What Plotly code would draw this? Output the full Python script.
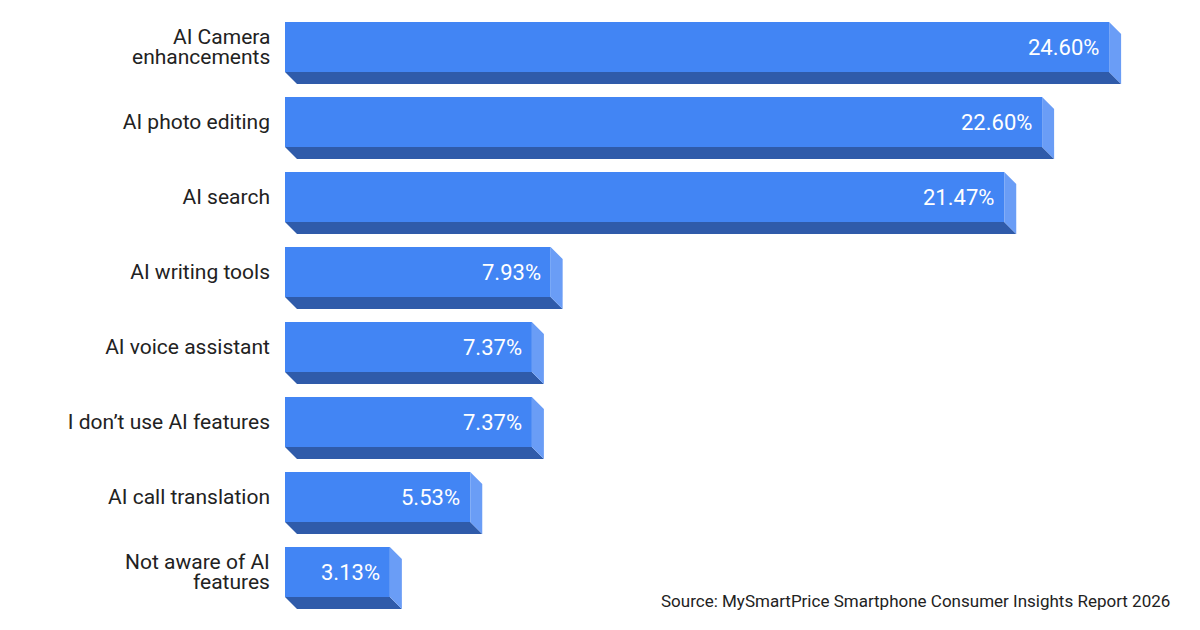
import plotly.graph_objects as go

# Survey: which AI smartphone features people use most
categories = [
    "AI Camera<br>enhancements",
    "AI photo editing",
    "AI search",
    "AI writing tools",
    "AI voice assistant",
    "I don’t use AI features",
    "AI call translation",
    "Not aware of AI<br>features",
]
shares = [24.60, 22.60, 21.47, 7.93, 7.37, 7.37, 5.53, 3.13]
value_labels = [f"{v:.2f}%" for v in shares]

source_note = "Source: MySmartPrice Smartphone Consumer Insights Report 2026"

FRONT = "#4285F4"
SIDE = "#6A9DF6"
BOTTOM = "#2F5BAA"
TEXT = "#222222"

# page body has an 8px margin, so everything is shifted up/left by 8
OFF = 8
LEFT = 285 - OFF
PLOT_W = 1200 - LEFT
PX_PER_PCT = 33.5
X_MAX = PLOT_W / PX_PER_PCT
ROW = 75
FIRST_CENTER = 47 - OFF
BAR_W = 50 / ROW
DX = 12 / PX_PER_PCT     # depth of the 3d effect, in x units
DY = 12 / ROW            # depth in row units
LINE_GAP = 20            # px between lines of two-line labels
positions = list(range(len(categories)))

fig = go.Figure()

# bottom + side faces as filled polygons
for pos, val in zip(positions, shares):
    y_top = pos - BAR_W / 2
    y_bot = pos + BAR_W / 2
    fig.add_trace(go.Scatter(
        x=[0, val, val + DX, DX, 0],
        y=[y_bot, y_bot, y_bot + DY, y_bot + DY, y_bot],
        fill="toself", fillcolor=BOTTOM, mode="lines",
        line=dict(width=0), hoverinfo="skip", showlegend=False,
    ))
    fig.add_trace(go.Scatter(
        x=[val, val + DX, val + DX, val, val],
        y=[y_top, y_top + DY, y_bot + DY, y_bot, y_top],
        fill="toself", fillcolor=SIDE, mode="lines",
        line=dict(width=0), hoverinfo="skip", showlegend=False,
    ))

# front faces
fig.add_trace(go.Bar(
    x=shares,
    y=positions,
    orientation="h",
    width=BAR_W,
    marker=dict(color=FRONT, line=dict(width=0)),
    hoverinfo="skip",
    showlegend=False,
))

for pos, val, lab in zip(positions, shares, value_labels):
    fig.add_annotation(
        x=val, y=pos, text=lab, showarrow=False,
        xanchor="right", xshift=-8,
        font=dict(family="Roboto", size=22, color="white"),
    )

# category labels: single-line ones go on the axis, two-line ones are
# drawn line by line so the line spacing can be tighter
tick_text = []
for pos, cat in zip(positions, categories):
    lines = cat.split("<br>")
    if len(lines) == 1:
        tick_text.append(cat)
        continue
    tick_text.append("")
    for k, line in enumerate(lines):
        fig.add_annotation(
            x=0, y=pos, xref="x domain", yref="y",
            text=line, showarrow=False,
            xanchor="right", yanchor="middle",
            xshift=-13,
            yshift=(len(lines) - 1) * LINE_GAP / 2 - k * LINE_GAP,
            font=dict(family="Roboto", size=21, color=TEXT),
        )

fig.add_annotation(
    x=(1172 - OFF - LEFT) / PLOT_W, y=1 - (601 - OFF) / 630,
    xref="x domain", yref="paper",
    text=source_note, showarrow=False,
    xanchor="right", yanchor="middle",
    font=dict(family="Roboto", size=17, color=TEXT),
)

fig.update_layout(
    width=1200, height=630,
    margin=dict(l=LEFT, r=0, t=0, b=0),
    paper_bgcolor="white",
    plot_bgcolor="white",
    font=dict(family="Roboto", color=TEXT),
)

fig.update_xaxes(
    range=[0, X_MAX], visible=False, fixedrange=True,
)
fig.update_yaxes(
    range=[(630 - FIRST_CENTER) / ROW, -FIRST_CENTER / ROW],
    tickvals=positions,
    ticktext=tick_text,
    tickfont=dict(family="Roboto", size=21, color=TEXT),
    ticks="",
    ticklabelstandoff=14,
    showgrid=False,
    zeroline=False,
    showline=False,
    fixedrange=True,
)

fig.write_html("out.html")
